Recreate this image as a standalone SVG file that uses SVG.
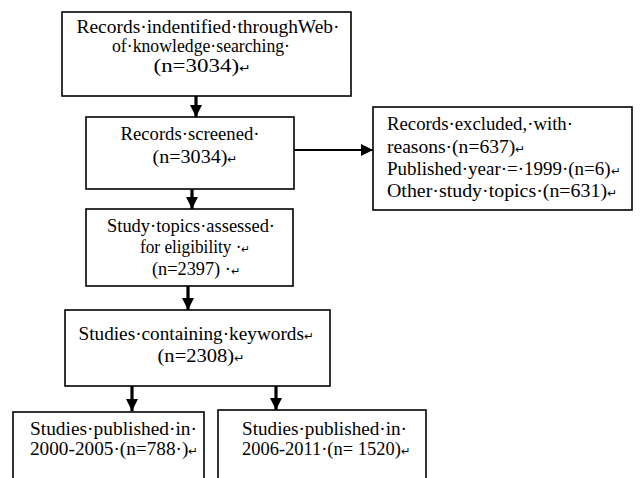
<svg xmlns="http://www.w3.org/2000/svg" width="640" height="478" viewBox="0 0 640 478">
<style>
.box{fill:#fff;stroke:#000;stroke-width:1.6}
text{font-family:"Liberation Serif","Times New Roman",serif;font-size:18px;fill:#000}
.m{text-anchor:middle}
.r{font-size:11px}
.c{stroke:#000;fill:none}
.v{stroke-width:3.2}
.h{stroke-width:2.2}
</style>
<defs>
<marker id="ah" markerUnits="userSpaceOnUse" markerWidth="12" markerHeight="12" viewBox="0 0 12 12" refX="12" refY="6" orient="auto">
<path d="M0,0 L12,6 L0,12 Z" fill="#000"/>
</marker>
</defs>
<rect width="640" height="478" fill="#fff"/>
<g id="connectors">
<line class="c v" x1="196" y1="96" x2="196" y2="117" marker-end="url(#ah)"/>
<line class="c v" x1="192" y1="189" x2="192" y2="209" marker-end="url(#ah)"/>
<line class="c v" x1="188" y1="286" x2="188" y2="310" marker-end="url(#ah)"/>
<line class="c v" x1="132" y1="386" x2="132" y2="411" marker-end="url(#ah)"/>
<line class="c v" x1="276" y1="386" x2="276" y2="410" marker-end="url(#ah)"/>
<line class="c h" x1="294" y1="150" x2="373" y2="150" marker-end="url(#ah)"/>
</g>
<g id="n1">
<rect class="box" x="62" y="12" width="289" height="84"/>
<text class="m" x="208" y="33" textLength="263" lengthAdjust="spacingAndGlyphs">Records·indentified·throughWeb·</text>
<text class="m" x="201" y="52" textLength="178" lengthAdjust="spacingAndGlyphs">of·knowledge·searching·</text>
<text class="m" x="202" y="72" textLength="97" lengthAdjust="spacingAndGlyphs">(n=3034)<tspan class="r">↵</tspan></text>
</g>
<g id="n2">
<rect class="box" x="86" y="117" width="208" height="72"/>
<text class="m" x="190" y="140" textLength="139" lengthAdjust="spacingAndGlyphs">Records·screened·</text>
<text class="m" x="195" y="163" textLength="85" lengthAdjust="spacingAndGlyphs">(n=3034)<tspan class="r">↵</tspan></text>
</g>
<g id="n3">
<rect class="box" x="373" y="107" width="259" height="103"/>
<text x="387" y="130" textLength="186" lengthAdjust="spacingAndGlyphs">Records·excluded,·with·</text>
<text x="387" y="153" textLength="138" lengthAdjust="spacingAndGlyphs">reasons·(n=637)<tspan class="r">↵</tspan></text>
<text x="387" y="175" textLength="233" lengthAdjust="spacingAndGlyphs">Published·year·=·1999·(n=6)<tspan class="r">↵</tspan></text>
<text x="387" y="197" textLength="230" lengthAdjust="spacingAndGlyphs">Other·study·topics·(n=631)<tspan class="r">↵</tspan></text>
</g>
<g id="n4">
<rect class="box" x="86" y="209" width="207" height="77"/>
<text class="m" x="191" y="232" textLength="168" lengthAdjust="spacingAndGlyphs">Study·topics·assessed·</text>
<text class="m" x="195" y="253" textLength="110" lengthAdjust="spacingAndGlyphs">for eligibility ·<tspan class="r">↵</tspan></text>
<text class="m" x="196" y="275" textLength="88" lengthAdjust="spacingAndGlyphs">(n=2397) ·<tspan class="r">↵</tspan></text>
</g>
<g id="n5">
<rect class="box" x="65" y="310" width="265" height="76"/>
<text class="m" x="196" y="340" textLength="235" lengthAdjust="spacingAndGlyphs">Studies·containing·keywords<tspan class="r">↵</tspan></text>
<text class="m" x="201" y="362" textLength="87" lengthAdjust="spacingAndGlyphs">(n=2308)<tspan class="r">↵</tspan></text>
</g>
<g id="n6">
<rect class="box" x="13" y="412" width="191" height="80"/>
<text x="30" y="435" textLength="167" lengthAdjust="spacingAndGlyphs">Studies·published·in·</text>
<text x="30" y="455" textLength="168" lengthAdjust="spacingAndGlyphs">2000-2005·(n=788·)<tspan class="r">↵</tspan></text>
</g>
<g id="n7">
<rect class="box" x="218" y="410" width="208" height="82"/>
<text x="242" y="435" textLength="165" lengthAdjust="spacingAndGlyphs">Studies·published·in·</text>
<text x="242" y="455" textLength="168" lengthAdjust="spacingAndGlyphs">2006-2011·(n= 1520)<tspan class="r">↵</tspan></text>
</g>
</svg>
